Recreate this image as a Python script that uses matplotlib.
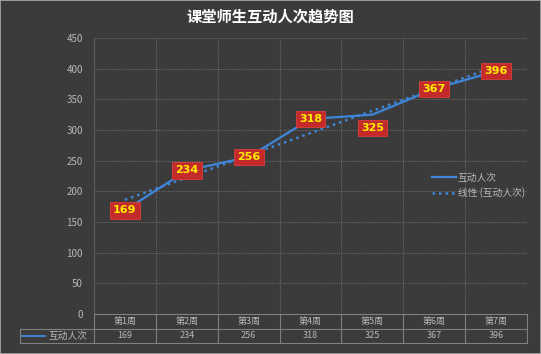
import numpy as np
import matplotlib
matplotlib.use('Agg')
import matplotlib.pyplot as plt
from matplotlib.lines import Line2D

plt.rcParams['font.family'] = ['Noto Sans CJK SC', 'DejaVu Sans']

# dados
weeks = ['第1周', '第2周', '第3周', '第4周', '第5周', '第6周', '第7周']
counts = [169, 234, 256, 318, 325, 367, 396]
series_name = '互动人次'
title = '课堂师生互动人次趋势图'

bg = '#3b3b3b'
txt = '#b8b8b8'
blue = '#3f86d8'

W, H = 541, 354
fig = plt.figure(figsize=(W / 100, H / 100), dpi=100, facecolor=bg)
# area do grafico em pixels: x 94..527, y 38..314
L, R, T, B = 94, 527, 38, 314
ax = fig.add_axes([L / W, 1 - B / H, (R - L) / W, (B - T) / H])
ax.set_facecolor(bg)

x = np.arange(len(weeks))
ax.set_xlim(-0.5, len(weeks) - 0.5)
ax.set_ylim(0, 450)
ax.set_yticks(np.arange(0, 451, 50))
ax.tick_params(axis='y', colors=txt, labelsize=7, length=0, pad=8)
ax.set_xticks([])
for s in ax.spines.values():
    s.set_visible(False)
ax.spines['left'].set_visible(True)
ax.spines['left'].set_color('#5e5e5e')

# grade
for yv in range(50, 451, 50):
    ax.axhline(yv, color='#686868', lw=0.8, ls=(0, (1, 1)), zorder=1)
for xv in np.arange(0.5, len(weeks) - 0.5, 1):
    ax.axvline(xv, color='#686868', lw=0.8, ls=(0, (1, 1)), zorder=1)

# linha principal e tendencia
ax.plot(x, counts, color=blue, lw=1.6, label=series_name, zorder=3)
fit = np.poly1d(np.polyfit(x, counts, 1))
ax.plot(x, fit(x), color=blue, lw=1.8, ls=(0, (1, 1.6)),
        label='线性 (' + series_name + ')', zorder=2)

# rotulos
offsets = [0, 0, 0, 0, -22, 0, 0]
for xi, v, off in zip(x, counts, offsets):
    ax.text(xi, v + off, str(v), ha='center', va='center', color='#ffee00',
            fontsize=8, fontweight='bold', family=['DejaVu Sans'], zorder=5,
            bbox=dict(boxstyle='square,pad=0.3', fc='#c42a2a', ec='#d84040', lw=0.6))

leg = ax.legend(loc='upper left', bbox_to_anchor=(0.77, 0.53), frameon=False,
                fontsize=7, labelcolor=txt, handlelength=2.4, handletextpad=0.2,
                borderpad=0, labelspacing=0.5)

# tabela de dados
tr = fig.transFigure
def fx(px):
    return px / W
def fy(py):
    return 1 - py / H

gc = '#808080'
r0, r1, r2 = 314, 329, 343
col_w = (R - L) / len(weeks)
fig.add_artist(Line2D([fx(L), fx(R)], [fy(r0), fy(r0)], color=gc, lw=0.8, transform=tr))
fig.add_artist(Line2D([fx(20), fx(R)], [fy(r1), fy(r1)], color=gc, lw=0.8, transform=tr))
fig.add_artist(Line2D([fx(20), fx(R)], [fy(r2), fy(r2)], color=gc, lw=0.8, transform=tr))
fig.add_artist(Line2D([fx(20), fx(20)], [fy(r1), fy(r2)], color=gc, lw=0.8, transform=tr))
for i in range(len(weeks) + 1):
    xp = L + i * col_w
    fig.add_artist(Line2D([fx(xp), fx(xp)], [fy(r0), fy(r2)], color=gc, lw=0.8, transform=tr))
for i, (w, v) in enumerate(zip(weeks, counts)):
    xc = L + (i + 0.5) * col_w
    fig.text(fx(xc), fy((r0 + r1) / 2), w, ha='center', va='center', color=txt, fontsize=6.5)
    fig.text(fx(xc), fy((r1 + r2) / 2), str(v), ha='center', va='center', color=txt, fontsize=6.5)
fig.add_artist(Line2D([fx(22), fx(45)], [fy((r1 + r2) / 2)] * 2, color=blue, lw=1.4, transform=tr))
fig.text(fx(48), fy((r1 + r2) / 2), series_name, ha='left', va='center', color=txt, fontsize=7)

fig.text(0.5, fy(17), title, ha='center', va='center', color='white',
         fontsize=11, fontweight='bold')

# moldura
fig.add_artist(plt.Rectangle((0, 0), 1, 1, transform=tr, fill=False, ec='#aaaaaa', lw=1.2))

fig.savefig('out.png', dpi=100, facecolor=bg)
